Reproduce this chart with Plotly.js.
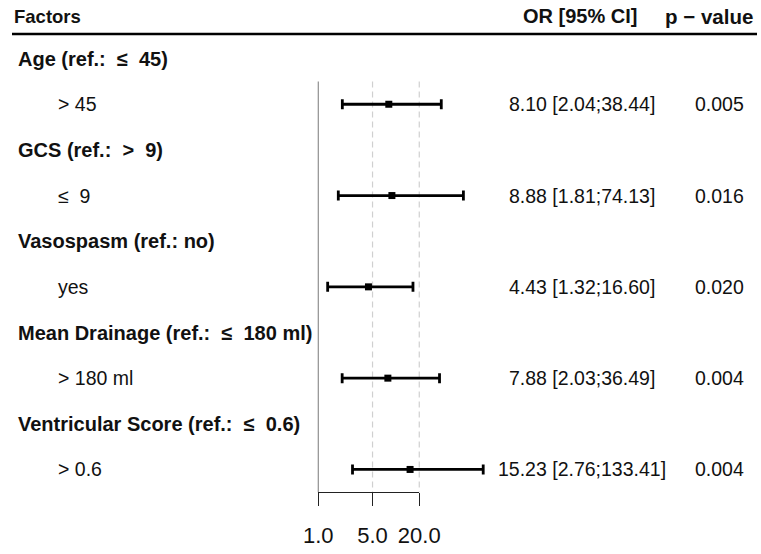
<!DOCTYPE html>
<html>
<head>
<meta charset="utf-8">
<script src="https://cdn.plot.ly/plotly-3.0.1.min.js"></script>
<style>html,body{margin:0;padding:0;background:#fff;}#chart{width:761px;height:554px;}</style>
</head>
<body>
<div id="chart"></div>
<script>
// ---- data ----
const groupLabels = ["Age (ref.:  \u2264  45)", "GCS (ref.:  >  9)", "Vasospasm (ref.: no)", "Mean Drainage (ref.:  \u2264  180 ml)", "Ventricular Score (ref.:  \u2264  0.6)"];
const levelLabels = ["> 45", "\u2264  9", "yes", "> 180 ml", "> 0.6"];
const oddsRatio = [8.10, 8.88, 4.43, 7.88, 15.23];
const ciLower = [2.04, 1.81, 1.32, 2.03, 2.76];
const ciUpper = [38.44, 74.13, 16.60, 36.49, 133.41];
const pValues = ["0.005", "0.016", "0.020", "0.004", "0.004"];
const tickValues = [1, 5, 20];
const tickLabels = ["1.0", "5.0", "20.0"];
const refLines = [1, 5, 20];

// ---- layout helpers ----
const W = 761, H = 554;
const FONT = "Liberation Sans, Arial, sans-serif";
const groupRows = groupLabels.map((_, i) => 2 * i);
const levelRows = levelLabels.map((_, i) => 2 * i + 1);
const lastRow = levelRows[levelRows.length - 1] + 0.5;

const traces = [];
// reference lines
refLines.forEach(v => {
  traces.push({
    x: [v, v], y: [0.5, lastRow], mode: "lines", xaxis: "x", yaxis: "y",
    line: v === 1 ? {color: "#8f8f8f", width: 1.2} : {color: "#d0d0d0", width: 1.2, dash: "6px,4px"},
    hoverinfo: "skip", showlegend: false
  });
});
// estimates with CIs
traces.push({
  x: oddsRatio, y: levelRows, mode: "markers", type: "scatter", xaxis: "x", yaxis: "y",
  marker: {symbol: "square", size: 7, color: "#000"},
  error_x: {type: "data", symmetric: false,
    array: oddsRatio.map((v, i) => ciUpper[i] - v),
    arrayminus: oddsRatio.map((v, i) => v - ciLower[i]),
    color: "#000", thickness: 2.8, width: 5},
  hoverinfo: "skip", showlegend: false
});
// dummy trace for the visible axis
traces.push({x: [tickValues[0], tickValues[tickValues.length - 1]], y: [lastRow, lastRow], xaxis: "x2", yaxis: "y",
  mode: "markers", marker: {opacity: 0}, hoverinfo: "skip", showlegend: false});

const annotations = [];
const txt = (text, x, y, size, opts) => Object.assign({text, x, y, xref: "paper", yref: "y", showarrow: false,
  font: {family: FONT, size: size, color: "#111"}, xanchor: "left", yanchor: "middle"}, opts || {});
annotations.push(txt("<b>Factors</b>", 12 / W, -0.93, 18.5));
annotations.push(txt("<b>OR [95% CI]</b>", 580 / W, -0.93, 20, {xanchor: "center"}));
annotations.push(txt("<b>p \u2212 value</b>", 709 / W, -0.93, 20.5, {xanchor: "center"}));
groupLabels.forEach((g, i) => annotations.push(txt("<b>" + g + "</b>", 16 / W, groupRows[i], 20)));
levelLabels.forEach((l, i) => {
  annotations.push(txt(l, 56 / W, levelRows[i], 19.5));
  annotations.push(txt(oddsRatio[i].toFixed(2) + " [" + ciLower[i].toFixed(2) + ";" + ciUpper[i].toFixed(2) + "]", 582 / W, levelRows[i], 19.5, {xanchor: "center"}));
  annotations.push(txt(pValues[i], 719 / W, levelRows[i], 19.5, {xanchor: "center"}));
});

const pxPerDecade = 77.6, x1px = 318.3, row0 = 58.6, rowH = 45.65;
const layout = {
  width: W, height: H, margin: {l: 0, r: 0, t: 0, b: 0},
  paper_bgcolor: "#fff", plot_bgcolor: "rgba(0,0,0,0)",
  xaxis: {type: "log", range: [-x1px / pxPerDecade, (W - x1px) / pxPerDecade], visible: false, fixedrange: true},
  xaxis2: {type: "log", domain: [x1px / W, (x1px + pxPerDecade * Math.log10(20)) / W],
    range: [Math.log10(tickValues[0]), Math.log10(tickValues[tickValues.length - 1])],
    anchor: "free", position: 1 - 492 / H, showline: true, linecolor: "#222", linewidth: 1,
    ticks: "outside", ticklen: 13, tickwidth: 1, tickcolor: "#222", ticklabelstandoff: 11,
    tickvals: tickValues, ticktext: tickLabels, tickfont: {family: FONT, size: 22, color: "#111"},
    showgrid: false, zeroline: false, fixedrange: true},
  yaxis: {range: [(H - row0) / rowH, -row0 / rowH], visible: false, fixedrange: true},
  shapes: [{type: "line", xref: "paper", yref: "paper", x0: 12 / W, x1: 757 / W, y0: 1 - 34 / H, y1: 1 - 34 / H,
    line: {color: "#000", width: 2.5}}],
  annotations: annotations,
  showlegend: false
};
Plotly.newPlot("chart", traces, layout, {displayModeBar: false, staticPlot: true});
</script>
</body>
</html>
